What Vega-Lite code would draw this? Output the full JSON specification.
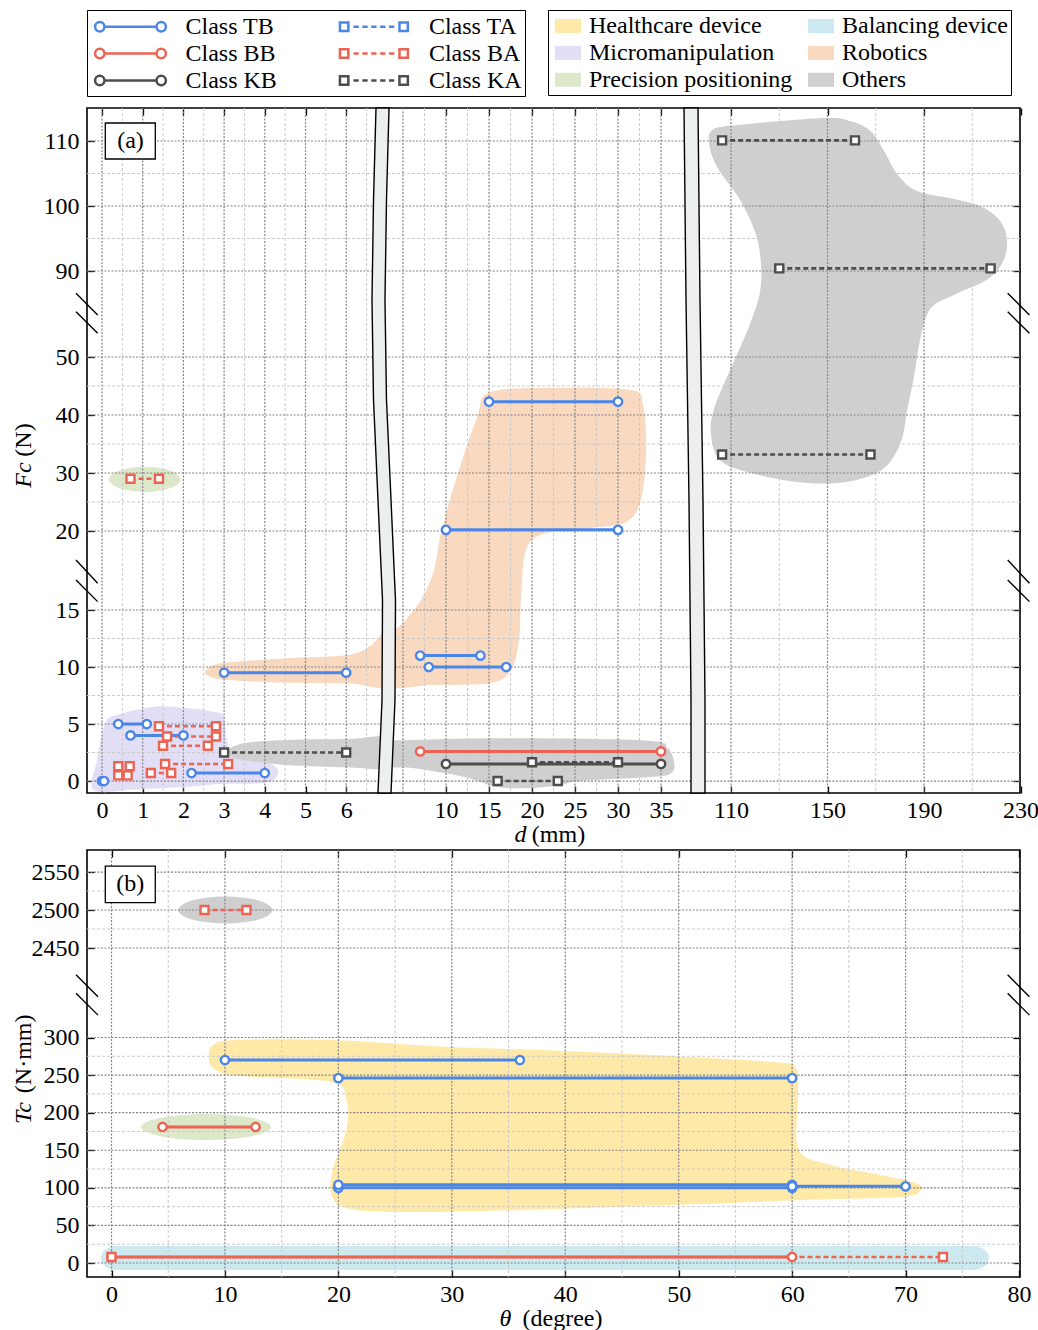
{
"$schema":"https://vega.github.io/schema/vega-lite/v6.json",
"background":"white",
"padding":{"left":10,"top":8,"right":0,"bottom":0},
"bounds":"flush",
"spacing":57,
"config":{
 "font":"Liberation Serif",
 "view":{"stroke":"black","strokeWidth":1.6},
 "axis":{"domain":false,"grid":false,"labelFont":"Liberation Serif","labelFontSize":24,"labelColor":"black","titleFont":"Liberation Serif","titleFontSize":24,"titleFontWeight":"normal","titleColor":"black","tickColor":"black","tickWidth":1.3,"tickSize":-7,"labelFlush":false,"labelOverlap":false},
 "axisX":{"labelPadding":12},
 "axisY":{"labelPadding":15},
 "legend":{"labelFont":"Liberation Serif","labelFontSize":24,"labelColor":"black"}
},
"resolve":{"scale":{"stroke":"independent","fill":"independent","shape":"independent"},"legend":{"stroke":"independent","fill":"independent","shape":"independent"}},
"datasets":{
 "lA":[
  {"s":1,"cls":"Class TB","x1":0,"x2":0.05,"y":0},
  {"s":1,"cls":"Class TB","x1":0.4,"x2":1.1,"y":5},
  {"s":1,"cls":"Class TB","x1":0.7,"x2":2.0,"y":4},
  {"s":1,"cls":"Class TB","x1":2.2,"x2":4.0,"y":0.7},
  {"s":1,"cls":"Class TB","x1":3,"x2":6,"y":9.5},
  {"s":1,"cls":"Class BA","x1":1.4,"x2":2.8,"y":4.8},
  {"s":1,"cls":"Class BA","x1":1.6,"x2":2.8,"y":3.9},
  {"s":1,"cls":"Class BA","x1":1.5,"x2":2.6,"y":3.1},
  {"s":1,"cls":"Class BA","x1":1.55,"x2":3.1,"y":1.5},
  {"s":1,"cls":"Class BA","x1":1.2,"x2":1.7,"y":0.7},
  {"s":1,"cls":"Class BA","x1":0.4,"x2":0.68,"y":1.3},
  {"s":1,"cls":"Class BA","x1":0.4,"x2":0.63,"y":0.5},
  {"s":1,"cls":"Class BA","x1":0.7,"x2":1.4,"y":29},
  {"s":1,"cls":"Class KA","x1":3,"x2":6,"y":2.5},
  {"s":2,"cls":"Class TB","x1":7,"x2":14,"y":11},
  {"s":2,"cls":"Class TB","x1":8,"x2":17,"y":10},
  {"s":2,"cls":"Class TB","x1":10,"x2":30,"y":20.2},
  {"s":2,"cls":"Class TB","x1":15,"x2":30,"y":42.3},
  {"s":2,"cls":"Class BB","x1":7,"x2":35,"y":2.6},
  {"s":2,"cls":"Class KB","x1":10,"x2":35,"y":1.5},
  {"s":2,"cls":"Class KA","x1":20,"x2":30,"y":1.65},
  {"s":2,"cls":"Class KA","x1":16,"x2":23,"y":0},
  {"s":3,"cls":"Class KA","x1":106.3,"x2":161.4,"y":110.1},
  {"s":3,"cls":"Class KA","x1":130,"x2":217.6,"y":90.4},
  {"s":3,"cls":"Class KA","x1":106.3,"x2":167.8,"y":33.2}
 ],
 "lB":[
  {"cls":"Class BA","x1":8.2,"x2":11.9,"y":2500},
  {"cls":"Class TB","x1":10,"x2":36,"y":270},
  {"cls":"Class TB","x1":20,"x2":60,"y":246},
  {"cls":"Class BB","x1":4.5,"x2":12.7,"y":181},
  {"cls":"Class TB","x1":20,"x2":60,"y":100},
  {"cls":"Class TB","x1":20,"x2":60,"y":104},
  {"cls":"Class TB","x1":60,"x2":70,"y":102},
  {"cls":"Class BA","x1":0,"x2":73.3,"y":8},
  {"cls":"Class BB","x1":0,"x2":60,"y":8}
 ],
 "bA":[
  {"s":1,"b":"m1","region":"Micromanipulation","i":0,"x":-0.2,"y":-0.79},
  {"s":1,"b":"m1","region":"Micromanipulation","i":1,"x":-0.12,"y":1.84},
  {"s":1,"b":"m1","region":"Micromanipulation","i":2,"x":0.08,"y":5.06},
  {"s":1,"b":"m1","region":"Micromanipulation","i":3,"x":0.37,"y":5.79},
  {"s":1,"b":"m1","region":"Micromanipulation","i":4,"x":1.27,"y":6.52},
  {"s":1,"b":"m1","region":"Micromanipulation","i":5,"x":2.09,"y":6.38},
  {"s":1,"b":"m1","region":"Micromanipulation","i":6,"x":2.74,"y":6.08},
  {"s":1,"b":"m1","region":"Micromanipulation","i":7,"x":2.99,"y":5.64},
  {"s":1,"b":"m1","region":"Micromanipulation","i":8,"x":3.07,"y":3.6},
  {"s":1,"b":"m1","region":"Micromanipulation","i":9,"x":3.24,"y":2.13},
  {"s":1,"b":"m1","region":"Micromanipulation","i":10,"x":3.89,"y":1.84},
  {"s":1,"b":"m1","region":"Micromanipulation","i":11,"x":4.3,"y":1.11},
  {"s":1,"b":"m1","region":"Micromanipulation","i":12,"x":4.26,"y":0.24},
  {"s":1,"b":"m1","region":"Micromanipulation","i":13,"x":3.89,"y":-0.2},
  {"s":1,"b":"m1","region":"Micromanipulation","i":14,"x":2.91,"y":-0.26},
  {"s":1,"b":"m1","region":"Micromanipulation","i":15,"x":2.09,"y":-0.5},
  {"s":1,"b":"m1","region":"Micromanipulation","i":16,"x":0.86,"y":-0.73},
  {"s":1,"b":"p1","region":"Precision positioning","i":0,"x":1.93,"y":28.9},
  {"s":1,"b":"p1","region":"Precision positioning","i":1,"x":1.67,"y":30.43},
  {"s":1,"b":"p1","region":"Precision positioning","i":2,"x":1.05,"y":31.06},
  {"s":1,"b":"p1","region":"Precision positioning","i":3,"x":0.43,"y":30.43},
  {"s":1,"b":"p1","region":"Precision positioning","i":4,"x":0.17,"y":28.9},
  {"s":1,"b":"p1","region":"Precision positioning","i":5,"x":0.43,"y":27.37},
  {"s":1,"b":"p1","region":"Precision positioning","i":6,"x":1.05,"y":26.74},
  {"s":1,"b":"p1","region":"Precision positioning","i":7,"x":1.67,"y":27.37},
  {"s":1,"b":"o1","region":"Others","i":0,"x":3.02,"y":2.54},
  {"s":1,"b":"o1","region":"Others","i":1,"x":3.48,"y":3.31},
  {"s":1,"b":"o1","region":"Others","i":2,"x":4.55,"y":3.6},
  {"s":1,"b":"o1","region":"Others","i":3,"x":6.02,"y":3.68},
  {"s":1,"b":"o1","region":"Others","i":4,"x":7.05,"y":3.77},
  {"s":1,"b":"o1","region":"Others","i":5,"x":7.05,"y":1.23},
  {"s":1,"b":"o1","region":"Others","i":6,"x":6.02,"y":1.2},
  {"s":1,"b":"o1","region":"Others","i":7,"x":4.55,"y":1.4},
  {"s":1,"b":"o1","region":"Others","i":8,"x":3.48,"y":1.84},
  {"s":1,"b":"o1","region":"Others","i":9,"x":3.12,"y":2.19},
  {"s":1,"b":"r1","region":"Robotics","i":0,"x":2.54,"y":9.59},
  {"s":1,"b":"r1","region":"Robotics","i":1,"x":2.91,"y":10.32},
  {"s":1,"b":"r1","region":"Robotics","i":2,"x":4.55,"y":10.76},
  {"s":1,"b":"r1","region":"Robotics","i":3,"x":6.02,"y":11.05},
  {"s":1,"b":"r1","region":"Robotics","i":4,"x":6.59,"y":11.84},
  {"s":1,"b":"r1","region":"Robotics","i":5,"x":7.1,"y":13.33},
  {"s":1,"b":"r1","region":"Robotics","i":6,"x":7.1,"y":8.51},
  {"s":1,"b":"r1","region":"Robotics","i":7,"x":6.02,"y":8.57},
  {"s":1,"b":"r1","region":"Robotics","i":8,"x":4.55,"y":8.62},
  {"s":1,"b":"r1","region":"Robotics","i":9,"x":3.07,"y":8.86},
  {"s":1,"b":"r1","region":"Robotics","i":10,"x":2.66,"y":9.15},
  {"s":2,"b":"o2","region":"Others","i":0,"x":2.67,"y":3.33},
  {"s":2,"b":"o2","region":"Others","i":1,"x":6.31,"y":3.6},
  {"s":2,"b":"o2","region":"Others","i":2,"x":17.94,"y":3.75},
  {"s":2,"b":"o2","region":"Others","i":3,"x":33.45,"y":3.54},
  {"s":2,"b":"o2","region":"Others","i":4,"x":35.78,"y":2.87},
  {"s":2,"b":"o2","region":"Others","i":5,"x":36.55,"y":1.55},
  {"s":2,"b":"o2","region":"Others","i":6,"x":36.16,"y":0.68},
  {"s":2,"b":"o2","region":"Others","i":7,"x":34.22,"y":0.38},
  {"s":2,"b":"o2","region":"Others","i":8,"x":25.7,"y":0.03},
  {"s":2,"b":"o2","region":"Others","i":9,"x":23.37,"y":-0.35},
  {"s":2,"b":"o2","region":"Others","i":10,"x":19.88,"y":-0.61},
  {"s":2,"b":"o2","region":"Others","i":11,"x":16.01,"y":-0.53},
  {"s":2,"b":"o2","region":"Others","i":12,"x":12.13,"y":0.35},
  {"s":2,"b":"o2","region":"Others","i":13,"x":6.31,"y":1.11},
  {"s":2,"b":"o2","region":"Others","i":14,"x":2.67,"y":1.4},
  {"s":2,"b":"r2","region":"Robotics","i":0,"x":2.67,"y":8.42},
  {"s":2,"b":"r2","region":"Robotics","i":1,"x":2.67,"y":12.37},
  {"s":2,"b":"r2","region":"Robotics","i":2,"x":4.77,"y":13.68},
  {"s":2,"b":"r2","region":"Robotics","i":3,"x":7.09,"y":15.63},
  {"s":2,"b":"r2","region":"Robotics","i":4,"x":8.6,"y":17.53},
  {"s":2,"b":"r2","region":"Robotics","i":5,"x":9.5,"y":20.2},
  {"s":2,"b":"r2","region":"Robotics","i":6,"x":11.5,"y":30.5},
  {"s":2,"b":"r2","region":"Robotics","i":7,"x":13.6,"y":39.5},
  {"s":2,"b":"r2","region":"Robotics","i":8,"x":15.2,"y":43.97},
  {"s":2,"b":"r2","region":"Robotics","i":9,"x":23.37,"y":44.66},
  {"s":2,"b":"r2","region":"Robotics","i":10,"x":31.51,"y":44.31},
  {"s":2,"b":"r2","region":"Robotics","i":11,"x":32.91,"y":41.72},
  {"s":2,"b":"r2","region":"Robotics","i":12,"x":33.26,"y":33.97},
  {"s":2,"b":"r2","region":"Robotics","i":13,"x":32.67,"y":25.34},
  {"s":2,"b":"r2","region":"Robotics","i":14,"x":30.93,"y":21.55},
  {"s":2,"b":"r2","region":"Robotics","i":15,"x":26.86,"y":20.52},
  {"s":2,"b":"r2","region":"Robotics","i":16,"x":21.63,"y":19.87},
  {"s":2,"b":"r2","region":"Robotics","i":17,"x":19.3,"y":18.8},
  {"s":2,"b":"r2","region":"Robotics","i":18,"x":18.72,"y":15.63},
  {"s":2,"b":"r2","region":"Robotics","i":19,"x":18.49,"y":12.37},
  {"s":2,"b":"r2","region":"Robotics","i":20,"x":17.56,"y":9.74},
  {"s":2,"b":"r2","region":"Robotics","i":21,"x":15.23,"y":8.6},
  {"s":2,"b":"r2","region":"Robotics","i":22,"x":8.26,"y":8.42},
  {"s":3,"b":"o3","region":"Others","i":0,"x":102.4,"y":111.74},
  {"s":3,"b":"o3","region":"Others","i":1,"x":114.1,"y":112.51},
  {"s":3,"b":"o3","region":"Others","i":2,"x":148.7,"y":113.54},
  {"s":3,"b":"o3","region":"Others","i":3,"x":159.7,"y":113.03},
  {"s":3,"b":"o3","region":"Others","i":4,"x":168.0,"y":111.49},
  {"s":3,"b":"o3","region":"Others","i":5,"x":173.5,"y":108.42},
  {"s":3,"b":"o3","region":"Others","i":6,"x":179.1,"y":104.82},
  {"s":3,"b":"o3","region":"Others","i":7,"x":187.4,"y":102.26},
  {"s":3,"b":"o3","region":"Others","i":8,"x":204.0,"y":100.97},
  {"s":3,"b":"o3","region":"Others","i":9,"x":215.0,"y":99.69},
  {"s":3,"b":"o3","region":"Others","i":10,"x":222.6,"y":97.12},
  {"s":3,"b":"o3","region":"Others","i":11,"x":224.4,"y":93.54},
  {"s":3,"b":"o3","region":"Others","i":12,"x":221.2,"y":90.46},
  {"s":3,"b":"o3","region":"Others","i":13,"x":215.0,"y":85.2},
  {"s":3,"b":"o3","region":"Others","i":14,"x":202.6,"y":78.98},
  {"s":3,"b":"o3","region":"Others","i":15,"x":192.9,"y":72.79},
  {"s":3,"b":"o3","region":"Others","i":16,"x":188.8,"y":60.37},
  {"s":3,"b":"o3","region":"Others","i":17,"x":186.0,"y":46.95},
  {"s":3,"b":"o3","region":"Others","i":18,"x":183.2,"y":41.21},
  {"s":3,"b":"o3","region":"Others","i":19,"x":180.5,"y":35.47},
  {"s":3,"b":"o3","region":"Others","i":20,"x":173.5,"y":30.86},
  {"s":3,"b":"o3","region":"Others","i":21,"x":159.7,"y":28.57},
  {"s":3,"b":"o3","region":"Others","i":22,"x":141.8,"y":28.28},
  {"s":3,"b":"o3","region":"Others","i":23,"x":121.1,"y":29.71},
  {"s":3,"b":"o3","region":"Others","i":24,"x":105.9,"y":32.02},
  {"s":3,"b":"o3","region":"Others","i":25,"x":101.7,"y":36.6},
  {"s":3,"b":"o3","region":"Others","i":26,"x":103.1,"y":41.21},
  {"s":3,"b":"o3","region":"Others","i":27,"x":110.0,"y":48.1},
  {"s":3,"b":"o3","region":"Others","i":28,"x":118.3,"y":66.6},
  {"s":3,"b":"o3","region":"Others","i":29,"x":122.4,"y":83.63},
  {"s":3,"b":"o3","region":"Others","i":30,"x":121.1,"y":94.57},
  {"s":3,"b":"o3","region":"Others","i":31,"x":114.1,"y":100.72},
  {"s":3,"b":"o3","region":"Others","i":32,"x":104.5,"y":105.85},
  {"s":3,"b":"o3","region":"Others","i":33,"x":101.0,"y":109.43}
 ],
 "bB":[
  {"b":"g","region":"Others","i":0,"x":14.19,"y":2500},
  {"b":"g","region":"Others","i":1,"x":12.97,"y":2512.6},
  {"b":"g","region":"Others","i":2,"x":10.03,"y":2517.8},
  {"b":"g","region":"Others","i":3,"x":7.09,"y":2512.6},
  {"b":"g","region":"Others","i":4,"x":5.87,"y":2500},
  {"b":"g","region":"Others","i":5,"x":7.09,"y":2487.4},
  {"b":"g","region":"Others","i":6,"x":10.03,"y":2482.2},
  {"b":"g","region":"Others","i":7,"x":12.97,"y":2487.4},
  {"b":"p","region":"Precision positioning","i":0,"x":14.06,"y":181},
  {"b":"p","region":"Precision positioning","i":1,"x":12.38,"y":193.2},
  {"b":"p","region":"Precision positioning","i":2,"x":8.33,"y":198.3},
  {"b":"p","region":"Precision positioning","i":3,"x":4.28,"y":193.2},
  {"b":"p","region":"Precision positioning","i":4,"x":2.6,"y":181},
  {"b":"p","region":"Precision positioning","i":5,"x":4.28,"y":168.8},
  {"b":"p","region":"Precision positioning","i":6,"x":8.33,"y":163.7},
  {"b":"p","region":"Precision positioning","i":7,"x":12.38,"y":168.8},
  {"b":"h","region":"Healthcare device","i":0,"x":8.59,"y":272.7},
  {"b":"h","region":"Healthcare device","i":1,"x":8.95,"y":290.0},
  {"b":"h","region":"Healthcare device","i":2,"x":10.97,"y":296.7},
  {"b":"h","region":"Healthcare device","i":3,"x":19.35,"y":296.7},
  {"b":"h","region":"Healthcare device","i":4,"x":29.93,"y":287.3},
  {"b":"h","region":"Healthcare device","i":5,"x":37.86,"y":283.4},
  {"b":"h","region":"Healthcare device","i":6,"x":47.56,"y":276.7},
  {"b":"h","region":"Healthcare device","i":7,"x":58.14,"y":267.4},
  {"b":"h","region":"Healthcare device","i":8,"x":60.34,"y":259.4},
  {"b":"h","region":"Healthcare device","i":9,"x":60.5,"y":216.8},
  {"b":"h","region":"Healthcare device","i":10,"x":60.6,"y":150.3},
  {"b":"h","region":"Healthcare device","i":11,"x":63.4,"y":130.4},
  {"b":"h","region":"Healthcare device","i":12,"x":67.8,"y":117.1},
  {"b":"h","region":"Healthcare device","i":13,"x":70.9,"y":106.4},
  {"b":"h","region":"Healthcare device","i":14,"x":71.36,"y":97.1},
  {"b":"h","region":"Healthcare device","i":15,"x":69.6,"y":87.8},
  {"b":"h","region":"Healthcare device","i":16,"x":60.8,"y":83.8},
  {"b":"h","region":"Healthcare device","i":17,"x":52.0,"y":78.5},
  {"b":"h","region":"Healthcare device","i":18,"x":36.1,"y":70.5},
  {"b":"h","region":"Healthcare device","i":19,"x":25.5,"y":67.8},
  {"b":"h","region":"Healthcare device","i":20,"x":20.7,"y":73.2},
  {"b":"h","region":"Healthcare device","i":21,"x":19.4,"y":90.5},
  {"b":"h","region":"Healthcare device","i":22,"x":19.5,"y":123.7},
  {"b":"h","region":"Healthcare device","i":23,"x":20.7,"y":176.9},
  {"b":"h","region":"Healthcare device","i":24,"x":20.7,"y":216.8},
  {"b":"h","region":"Healthcare device","i":25,"x":19.4,"y":240.8},
  {"b":"h","region":"Healthcare device","i":26,"x":11.4,"y":248.8},
  {"b":"h","region":"Healthcare device","i":27,"x":9.2,"y":256.8},
  {"b":"c","region":"Balancing device","i":0,"x":-0.93,"y":6.65},
  {"b":"c","region":"Balancing device","i":1,"x":-0.62,"y":17.0},
  {"b":"c","region":"Balancing device","i":2,"x":0.2,"y":21.6},
  {"b":"c","region":"Balancing device","i":3,"x":1.6,"y":22.6},
  {"b":"c","region":"Balancing device","i":4,"x":38.2,"y":22.6},
  {"b":"c","region":"Balancing device","i":5,"x":74.82,"y":22.6},
  {"b":"c","region":"Balancing device","i":6,"x":76.22,"y":21.6},
  {"b":"c","region":"Balancing device","i":7,"x":77.04,"y":17.0},
  {"b":"c","region":"Balancing device","i":8,"x":77.35,"y":6.65},
  {"b":"c","region":"Balancing device","i":9,"x":77.04,"y":-3.7},
  {"b":"c","region":"Balancing device","i":10,"x":76.22,"y":-8.3},
  {"b":"c","region":"Balancing device","i":11,"x":74.82,"y":-9.3},
  {"b":"c","region":"Balancing device","i":12,"x":38.2,"y":-9.3},
  {"b":"c","region":"Balancing device","i":13,"x":1.6,"y":-9.3},
  {"b":"c","region":"Balancing device","i":14,"x":0.2,"y":-8.3},
  {"b":"c","region":"Balancing device","i":15,"x":-0.62,"y":-3.7}
 ],
 "kA1":[
  {"b":"k1","i":0,"x":6.732,"y":115.08},
  {"b":"k1","i":1,"x":6.671,"y":100.92},
  {"b":"k1","i":2,"x":6.634,"y":76.5},
  {"b":"k1","i":3,"x":6.671,"y":42.59},
  {"b":"k1","i":4,"x":6.781,"y":25.34},
  {"b":"k1","i":5,"x":6.892,"y":15.63},
  {"b":"k1","i":6,"x":6.88,"y":7.11},
  {"b":"k1","i":7,"x":6.781,"y":-1.05},
  {"b":"k1","i":8,"x":7.101,"y":-1.05},
  {"b":"k1","i":9,"x":7.199,"y":7.11},
  {"b":"k1","i":10,"x":7.211,"y":15.63},
  {"b":"k1","i":11,"x":7.101,"y":25.34},
  {"b":"k1","i":12,"x":6.99,"y":42.59},
  {"b":"k1","i":13,"x":6.953,"y":76.5},
  {"b":"k1","i":14,"x":6.99,"y":100.92},
  {"b":"k1","i":15,"x":7.052,"y":115.08}
 ],
 "kA2":[
  {"b":"k2","i":0,"x":90.52,"y":115.08},
  {"b":"k2","i":1,"x":91.35,"y":76.5},
  {"b":"k2","i":2,"x":92.59,"y":25.34},
  {"b":"k2","i":3,"x":93.42,"y":7.11},
  {"b":"k2","i":4,"x":93.42,"y":-1.05},
  {"b":"k2","i":5,"x":99.22,"y":-1.05},
  {"b":"k2","i":6,"x":99.22,"y":7.11},
  {"b":"k2","i":7,"x":98.39,"y":25.34},
  {"b":"k2","i":8,"x":97.15,"y":76.5},
  {"b":"k2","i":9,"x":96.32,"y":115.08}
 ],
 "slA":[
  {"side":"L","x1":-0.639,"x2":-0.106,"ya":79.63,"yb":69.53},
  {"side":"L","x1":-0.639,"x2":-0.106,"ya":71.07,"yb":61.02},
  {"side":"L","x1":-0.639,"x2":-0.106,"ya":18.16,"yb":16.69},
  {"side":"L","x1":-0.639,"x2":-0.106,"ya":16.9,"yb":15.53},
  {"side":"R","x1":224.7,"x2":233.7,"ya":79.63,"yb":69.53},
  {"side":"R","x1":224.7,"x2":233.7,"ya":71.07,"yb":61.02},
  {"side":"R","x1":224.7,"x2":233.7,"ya":18.16,"yb":16.69},
  {"side":"R","x1":224.7,"x2":233.7,"ya":16.9,"yb":15.53}
 ],
 "slB":[
  {"x1":-3.13,"x2":-1.19,"ya":1805.0,"yb":1279.5},
  {"x1":-3.13,"x2":-1.19,"ya":1363.1,"yb":837.5},
  {"x1":79.0,"x2":80.92,"ya":1805.0,"yb":1279.5},
  {"x1":79.0,"x2":80.92,"ya":1363.1,"yb":837.5}
 ],
 "vA1":[{"v":0,"k":"M"},{"v":1,"k":"M"},{"v":2,"k":"M"},{"v":3,"k":"M"},{"v":4,"k":"M"},{"v":5,"k":"M"},{"v":6,"k":"M"},
  {"v":0.5,"k":"m"},{"v":1.5,"k":"m"},{"v":2.5,"k":"m"},{"v":3.5,"k":"m"},{"v":4.5,"k":"m"},{"v":5.5,"k":"m"},{"v":6.5,"k":"m"}],
 "vA2":[{"v":5,"k":"M"},{"v":10,"k":"M"},{"v":15,"k":"M"},{"v":20,"k":"M"},{"v":25,"k":"M"},{"v":30,"k":"M"},{"v":35,"k":"M"},
  {"v":7.5,"k":"m"},{"v":12.5,"k":"m"},{"v":17.5,"k":"m"},{"v":22.5,"k":"m"},{"v":27.5,"k":"m"},{"v":32.5,"k":"m"}],
 "vA3":[{"v":110,"k":"M"},{"v":150,"k":"M"},{"v":190,"k":"M"},{"v":130,"k":"m"},{"v":170,"k":"m"},{"v":210,"k":"m"}],
 "hA":[{"v":0,"k":"M"},{"v":5,"k":"M"},{"v":10,"k":"M"},{"v":15,"k":"M"},{"v":20,"k":"M"},{"v":30,"k":"M"},{"v":40,"k":"M"},{"v":50,"k":"M"},{"v":90,"k":"M"},{"v":100,"k":"M"},{"v":110,"k":"M"},
  {"v":2.5,"k":"m"},{"v":7.5,"k":"m"},{"v":12.5,"k":"m"},{"v":25,"k":"m"},{"v":35,"k":"m"},{"v":45,"k":"m"},{"v":95,"k":"m"},{"v":105,"k":"m"}],
 "vB":[{"v":0,"k":"M"},{"v":10,"k":"M"},{"v":20,"k":"M"},{"v":30,"k":"M"},{"v":40,"k":"M"},{"v":50,"k":"M"},{"v":60,"k":"M"},{"v":70,"k":"M"},
  {"v":5,"k":"m"},{"v":15,"k":"m"},{"v":25,"k":"m"},{"v":35,"k":"m"},{"v":45,"k":"m"},{"v":55,"k":"m"},{"v":65,"k":"m"},{"v":75,"k":"m"}],
 "hB":[{"v":0,"k":"M"},{"v":50,"k":"M"},{"v":100,"k":"M"},{"v":150,"k":"M"},{"v":200,"k":"M"},{"v":250,"k":"M"},{"v":300,"k":"M"},{"v":2450,"k":"M"},{"v":2500,"k":"M"},{"v":2550,"k":"M"},
  {"v":25,"k":"m"},{"v":75,"k":"m"},{"v":125,"k":"m"},{"v":175,"k":"m"},{"v":225,"k":"m"},{"v":275,"k":"m"},{"v":2475,"k":"m"},{"v":2525,"k":"m"}]
},
"vconcat":[
{
 "width":933,"height":685,
 "resolve":{"scale":{"x":"independent"},"axis":{"x":"independent","y":"independent"}},
 "layer":[
  {"data":{"name":"lA"},
   "mark":{"type":"point","opacity":0,"filled":false},
   "encoding":{
    "stroke":{"field":"cls","type":"nominal","scale":{"domain":["Class TB","Class BB","Class KB","Class TA","Class BA","Class KA"],"range":["#4A86E8","#EC6352","#4D4D4D","#4A86E8","#EC6352","#4D4D4D"]},
      "legend":{"orient":"none","legendX":0,"legendY":-98,"columns":2,"title":null,"strokeColor":"black","fillColor":"white","padding":3,"symbolSize":576,"symbolStrokeWidth":2.5,"symbolFillColor":"white","symbolOpacity":1,"symbolOffset":27,"labelOffset":41.5,"columnPadding":56.4,"rowPadding":1,"labelLimit":400,"labelFontSize":24,"labelFont":"Liberation Serif","labelExpr":"indexof(['Class TA','Class BA','Class KA'], datum.label) >= 0 ? datum.label + '\u00a0\u00a0' : datum.label"}},
    "shape":{"field":"cls","type":"nominal","scale":{"domain":["Class TB","Class BB","Class KB","Class TA","Class BA","Class KA"],"range":[
      "M-2.95,0A0.39,0.39 0 1,1 -2.17,0A0.39,0.39 0 1,1 -2.95,0ZM-2.17,0H2.17M2.17,0A0.39,0.39 0 1,1 2.95,0A0.39,0.39 0 1,1 2.17,0Z",
      "M-2.95,0A0.39,0.39 0 1,1 -2.17,0A0.39,0.39 0 1,1 -2.95,0ZM-2.17,0H2.17M2.17,0A0.39,0.39 0 1,1 2.95,0A0.39,0.39 0 1,1 2.17,0Z",
      "M-2.95,0A0.39,0.39 0 1,1 -2.17,0A0.39,0.39 0 1,1 -2.95,0ZM-2.17,0H2.17M2.17,0A0.39,0.39 0 1,1 2.95,0A0.39,0.39 0 1,1 2.17,0Z",
      "M-2.83,-0.35H-2.13V0.35H-2.83ZM-1.7,0H-1.26M-0.96,0H-0.52M-0.22,0H0.22M0.52,0H0.96M1.26,0H1.7M2.13,-0.35H2.83V0.35H2.13Z",
      "M-2.83,-0.35H-2.13V0.35H-2.83ZM-1.7,0H-1.26M-0.96,0H-0.52M-0.22,0H0.22M0.52,0H0.96M1.26,0H1.7M2.13,-0.35H2.83V0.35H2.13Z",
      "M-2.83,-0.35H-2.13V0.35H-2.83ZM-1.7,0H-1.26M-0.96,0H-0.52M-0.22,0H0.22M0.52,0H0.96M1.26,0H1.7M2.13,-0.35H2.83V0.35H2.13Z"]},
      "legend":{"orient":"none","legendX":0,"legendY":-98,"columns":2,"title":null,"strokeColor":"black","fillColor":"white","padding":3,"symbolSize":576,"symbolStrokeWidth":2.5,"symbolFillColor":"white","symbolOpacity":1,"symbolOffset":27,"labelOffset":41.5,"columnPadding":56.4,"rowPadding":1,"labelLimit":400,"labelFontSize":24,"labelFont":"Liberation Serif","labelExpr":"indexof(['Class TA','Class BA','Class KA'], datum.label) >= 0 ? datum.label + '\u00a0\u00a0' : datum.label"}}}},
  {"data":{"name":"bA"},
   "mark":{"type":"point","opacity":0,"filled":true,"shape":"M-1,-0.54H1V0.54H-1Z"},
   "encoding":{
    "fill":{"field":"region","type":"nominal","scale":{"domain":["Healthcare device","Micromanipulation","Precision positioning","Balancing device","Robotics","Others"],"range":["#FFE9A8","#E2DEF6","#DDE8CB","#CBE9EF","#F9D9BF","#CFCFCF"]},
      "legend":{"orient":"none","legendX":461,"legendY":-98,"columns":2,"title":null,"strokeColor":"black","fillColor":"white","padding":3,"symbolSize":676,"symbolType":"M-1,-0.54H1V0.54H-1Z","symbolStrokeWidth":0,"symbolOpacity":1,"symbolOffset":4,"labelOffset":8,"columnPadding":11,"rowPadding":1.9,"labelLimit":400,"labelFontSize":24,"labelFont":"Liberation Serif"}}}},
  {"layer":[
   {"data":{"name":"bA"},"transform":[{"filter":"datum.s==1"}],
    "mark":{"type":"line","interpolate":"cardinal-closed","strokeWidth":0,"strokeOpacity":0},
    "encoding":{"x":{"field":"x","type":"quantitative","scale":{"domain":[0,6],"range":[15,259.2],"nice":false,"zero":false},"axis":null},
     "y":{"field":"y","type":"quantitative","scale":{"domain":[-1.05,15,20,50,90,115.08],"range":[685,502,423,249,163,0],"nice":false,"zero":false},"axis":null},
     "detail":{"field":"b"},"order":{"field":"i","type":"quantitative"},
     "fill":{"field":"region","type":"nominal","scale":{"domain":["Healthcare device","Micromanipulation","Precision positioning","Balancing device","Robotics","Others"],"range":["#FFE9A8","#E2DEF6","#DDE8CB","#CBE9EF","#F9D9BF","#CFCFCF"]}}}},
   {"data":{"name":"vA1"},"transform":[{"filter":"datum.k=='m'"}],"mark":{"type":"rule","stroke":"#cacaca","strokeWidth":1,"strokeDash":[3,2]},
    "encoding":{"x":{"field":"v","type":"quantitative","scale":{"domain":[0,6],"range":[15,259.2],"nice":false,"zero":false},"axis":null}}},
   {"data":{"name":"vA1"},"transform":[{"filter":"datum.k=='M'"}],"mark":{"type":"rule","stroke":"#858585","strokeWidth":1.2,"strokeDash":[2,1.5]},
    "encoding":{"x":{"field":"v","type":"quantitative","scale":{"domain":[0,6],"range":[15,259.2],"nice":false,"zero":false},"axis":null}}}
  ]},
  {"layer":[
   {"data":{"name":"bA"},"transform":[{"filter":"datum.s==2"}],
    "mark":{"type":"line","interpolate":"cardinal-closed","strokeWidth":0,"strokeOpacity":0},
    "encoding":{"x":{"field":"x","type":"quantitative","scale":{"domain":[10,35],"range":[359,574],"nice":false,"zero":false},"axis":null},
     "y":{"field":"y","type":"quantitative","scale":{"domain":[-1.05,15,20,50,90,115.08],"range":[685,502,423,249,163,0],"nice":false,"zero":false},"axis":null},
     "detail":{"field":"b"},"order":{"field":"i","type":"quantitative"},
     "fill":{"field":"region","type":"nominal","scale":{"domain":["Healthcare device","Micromanipulation","Precision positioning","Balancing device","Robotics","Others"],"range":["#FFE9A8","#E2DEF6","#DDE8CB","#CBE9EF","#F9D9BF","#CFCFCF"]}}}},
   {"data":{"name":"vA2"},"transform":[{"filter":"datum.k=='m'"}],"mark":{"type":"rule","stroke":"#cacaca","strokeWidth":1,"strokeDash":[3,2]},
    "encoding":{"x":{"field":"v","type":"quantitative","scale":{"domain":[10,35],"range":[359,574],"nice":false,"zero":false},"axis":null}}},
   {"data":{"name":"vA2"},"transform":[{"filter":"datum.k=='M'"}],"mark":{"type":"rule","stroke":"#858585","strokeWidth":1.2,"strokeDash":[2,1.5]},
    "encoding":{"x":{"field":"v","type":"quantitative","scale":{"domain":[10,35],"range":[359,574],"nice":false,"zero":false},"axis":null}}}
  ]},
  {"layer":[
   {"data":{"name":"bA"},"transform":[{"filter":"datum.s==3"}],
    "mark":{"type":"line","interpolate":"cardinal-closed","strokeWidth":0,"strokeOpacity":0},
    "encoding":{"x":{"field":"x","type":"quantitative","scale":{"domain":[110,230],"range":[644,933.5],"nice":false,"zero":false},"axis":null},
     "y":{"field":"y","type":"quantitative","scale":{"domain":[-1.05,15,20,50,90,115.08],"range":[685,502,423,249,163,0],"nice":false,"zero":false},"axis":null},
     "detail":{"field":"b"},"order":{"field":"i","type":"quantitative"},
     "fill":{"field":"region","type":"nominal","scale":{"domain":["Healthcare device","Micromanipulation","Precision positioning","Balancing device","Robotics","Others"],"range":["#FFE9A8","#E2DEF6","#DDE8CB","#CBE9EF","#F9D9BF","#CFCFCF"]}}}},
   {"data":{"name":"vA3"},"transform":[{"filter":"datum.k=='m'"}],"mark":{"type":"rule","stroke":"#cacaca","strokeWidth":1,"strokeDash":[3,2]},
    "encoding":{"x":{"field":"v","type":"quantitative","scale":{"domain":[110,230],"range":[644,933.5],"nice":false,"zero":false},"axis":null}}},
   {"data":{"name":"vA3"},"transform":[{"filter":"datum.k=='M'"}],"mark":{"type":"rule","stroke":"#858585","strokeWidth":1.2,"strokeDash":[2,1.5]},
    "encoding":{"x":{"field":"v","type":"quantitative","scale":{"domain":[110,230],"range":[644,933.5],"nice":false,"zero":false},"axis":null}}}
  ]},
  {"layer":[
   {"data":{"name":"hA"},"transform":[{"filter":"datum.k=='m'"}],"mark":{"type":"rule","stroke":"#cacaca","strokeWidth":1,"strokeDash":[3,2]},
    "encoding":{"y":{"field":"v","type":"quantitative","scale":{"domain":[-1.05,15,20,50,90,115.08],"range":[685,502,423,249,163,0],"nice":false,"zero":false},"axis":null}}},
   {"data":{"name":"hA"},"transform":[{"filter":"datum.k=='M'"}],"mark":{"type":"rule","stroke":"#858585","strokeWidth":1.2,"strokeDash":[2,1.5]},
    "encoding":{"y":{"field":"v","type":"quantitative","scale":{"domain":[-1.05,15,20,50,90,115.08],"range":[685,502,423,249,163,0],"nice":false,"zero":false},"axis":null}}}
  ]},
  {"data":{"name":"kA1"},"mark":{"type":"line","interpolate":"linear-closed","fill":"#EDEFEE","stroke":"black","strokeWidth":1.4},
   "encoding":{"x":{"field":"x","type":"quantitative","scale":{"domain":[0,6],"range":[15,259.2],"nice":false,"zero":false},"axis":null},
    "y":{"field":"y","type":"quantitative","scale":{"domain":[-1.05,15,20,50,90,115.08],"range":[685,502,423,249,163,0],"nice":false,"zero":false},"axis":null},
    "detail":{"field":"b"},"order":{"field":"i","type":"quantitative"}}},
  {"data":{"name":"kA2"},"mark":{"type":"line","interpolate":"linear-closed","fill":"#EDEFEE","stroke":"black","strokeWidth":1.4},
   "encoding":{"x":{"field":"x","type":"quantitative","scale":{"domain":[110,230],"range":[644,933.5],"nice":false,"zero":false},"axis":null},
    "y":{"field":"y","type":"quantitative","scale":{"domain":[-1.05,15,20,50,90,115.08],"range":[685,502,423,249,163,0],"nice":false,"zero":false},"axis":null},
    "detail":{"field":"b"},"order":{"field":"i","type":"quantitative"}}},
  {"resolve":{"axis":{"x":"independent"}},
   "layer":[
   {"data":{"name":"lA"},"transform":[{"filter":"datum.s==1 && substring(datum.cls,7,8)=='B'"}],
    "mark":{"type":"rule","strokeWidth":3},
    "encoding":{
     "x":{"field":"x1","type":"quantitative","scale":{"domain":[0,6],"range":[15,259.2],"nice":false,"zero":false},
       "axis":{"orient":"bottom","values":[0,1,2,3,4,5,6],"title":"d","titleFontStyle":"italic","titleX":433,"titleY":48,"titleAlign":"center","titleBaseline":"alphabetic","titleAngle":0}},
     "x2":{"field":"x2"},
     "y":{"field":"y","type":"quantitative","scale":{"domain":[-1.05,15,20,50,90,115.08],"range":[685,502,423,249,163,0],"nice":false,"zero":false},
       "axis":{"orient":"left","values":[0,5,10,15,20,30,40,50,90,100,110],"title":"Fc","titleFontStyle":"italic","titleX":-64,"titleY":366.5,"titleAngle":-90,"titleAlign":"center","titleBaseline":"middle"}},
     "stroke":{"field":"cls","type":"nominal","scale":{"domain":["Class TB","Class BB","Class KB","Class TA","Class BA","Class KA"],"range":["#4A86E8","#EC6352","#4D4D4D","#4A86E8","#EC6352","#4D4D4D"]}}}},
   {"data":{"name":"lA"},"transform":[{"filter":"datum.s==1 && substring(datum.cls,7,8)=='A'"}],
    "mark":{"type":"rule","strokeWidth":2.6,"strokeDash":[5,3]},
    "encoding":{
     "x":{"field":"x1","type":"quantitative","scale":{"domain":[0,6],"range":[15,259.2],"nice":false,"zero":false},"axis":null},
     "x2":{"field":"x2"},
     "y":{"field":"y","type":"quantitative","scale":{"domain":[-1.05,15,20,50,90,115.08],"range":[685,502,423,249,163,0],"nice":false,"zero":false}},
     "stroke":{"field":"cls","type":"nominal","scale":{"domain":["Class TB","Class BB","Class KB","Class TA","Class BA","Class KA"],"range":["#4A86E8","#EC6352","#4D4D4D","#4A86E8","#EC6352","#4D4D4D"]}}}},
   {"data":{"name":"lA"},"transform":[{"filter":"datum.s==1"},{"fold":["x1","x2"],"as":["end","xv"]},{"filter":"substring(datum.cls,7,8)=='B'"}],
    "mark":{"type":"point","shape":"circle","size":70,"strokeWidth":2.4,"fill":"white","filled":false,"opacity":1},
    "encoding":{"x":{"field":"xv","type":"quantitative","scale":{"domain":[0,6],"range":[15,259.2],"nice":false,"zero":false},
       "axis":{"orient":"top","values":[0,1,2,3,4,5,6],"labels":false,"title":null}},
     "y":{"field":"y","type":"quantitative","scale":{"domain":[-1.05,15,20,50,90,115.08],"range":[685,502,423,249,163,0],"nice":false,"zero":false}},
     "stroke":{"field":"cls","type":"nominal","scale":{"domain":["Class TB","Class BB","Class KB","Class TA","Class BA","Class KA"],"range":["#4A86E8","#EC6352","#4D4D4D","#4A86E8","#EC6352","#4D4D4D"]}}}},
   {"data":{"name":"lA"},"transform":[{"filter":"datum.s==1"},{"fold":["x1","x2"],"as":["end","xv"]},{"filter":"substring(datum.cls,7,8)=='A'"}],
    "mark":{"type":"point","shape":"square","size":64,"strokeWidth":2.4,"fill":"white","filled":false,"opacity":1},
    "encoding":{"x":{"field":"xv","type":"quantitative","scale":{"domain":[0,6],"range":[15,259.2],"nice":false,"zero":false},"axis":null},
     "y":{"field":"y","type":"quantitative","scale":{"domain":[-1.05,15,20,50,90,115.08],"range":[685,502,423,249,163,0],"nice":false,"zero":false}},
     "stroke":{"field":"cls","type":"nominal","scale":{"domain":["Class TB","Class BB","Class KB","Class TA","Class BA","Class KA"],"range":["#4A86E8","#EC6352","#4D4D4D","#4A86E8","#EC6352","#4D4D4D"]}}}},
   {"data":{"values":[{}]},"mark":{"type":"rect","fill":"white","stroke":"black","strokeWidth":1.3},
    "encoding":{"x":{"datum":0.081,"type":"quantitative","scale":{"domain":[0,6],"range":[15,259.2],"nice":false,"zero":false},"axis":null},"x2":{"datum":1.31},
     "y":{"datum":112.77,"type":"quantitative","scale":{"domain":[-1.05,15,20,50,90,115.08],"range":[685,502,423,249,163,0],"nice":false,"zero":false}},"y2":{"datum":107.23}}},
   {"data":{"values":[{}]},"mark":{"type":"text","text":"(a)","font":"Liberation Serif","fontSize":24,"color":"black","align":"center","baseline":"middle"},
    "encoding":{"x":{"datum":0.7,"type":"quantitative","scale":{"domain":[0,6],"range":[15,259.2],"nice":false,"zero":false},"axis":null},
     "y":{"datum":110,"type":"quantitative","scale":{"domain":[-1.05,15,20,50,90,115.08],"range":[685,502,423,249,163,0],"nice":false,"zero":false}}}},
   {"data":{"name":"slA"},"transform":[{"filter":"datum.side=='L'"}],"mark":{"type":"rule","stroke":"black","strokeWidth":1.4},
    "encoding":{"x":{"field":"x1","type":"quantitative","scale":{"domain":[0,6],"range":[15,259.2],"nice":false,"zero":false},"axis":null},"x2":{"field":"x2"},
     "y":{"field":"ya","type":"quantitative","scale":{"domain":[-1.05,15,20,50,90,115.08],"range":[685,502,423,249,163,0],"nice":false,"zero":false}},"y2":{"field":"yb"}}}
  ]},
  {"resolve":{"axis":{"x":"independent"}},
   "layer":[
   {"data":{"name":"lA"},"transform":[{"filter":"datum.s==2 && substring(datum.cls,7,8)=='B'"}],
    "mark":{"type":"rule","strokeWidth":3},
    "encoding":{
     "x":{"field":"x1","type":"quantitative","scale":{"domain":[10,35],"range":[359,574],"nice":false,"zero":false},
       "axis":{"orient":"bottom","values":[5,10,15,20,25,30,35],"labelExpr":"datum.value < 8 ? '' : datum.label","title":"(mm)","titleX":471,"titleY":48,"titleAlign":"center","titleBaseline":"alphabetic","titleAngle":0}},
     "x2":{"field":"x2"},
     "y":{"field":"y","type":"quantitative","scale":{"domain":[-1.05,15,20,50,90,115.08],"range":[685,502,423,249,163,0],"nice":false,"zero":false},
       "axis":{"orient":"left","values":[0],"labels":false,"ticks":false,"title":"(N)","titleX":-64,"titleY":331.5,"titleAngle":-90,"titleAlign":"center","titleBaseline":"middle"}},
     "stroke":{"field":"cls","type":"nominal","scale":{"domain":["Class TB","Class BB","Class KB","Class TA","Class BA","Class KA"],"range":["#4A86E8","#EC6352","#4D4D4D","#4A86E8","#EC6352","#4D4D4D"]}}}},
   {"data":{"name":"lA"},"transform":[{"filter":"datum.s==2 && substring(datum.cls,7,8)=='A'"}],
    "mark":{"type":"rule","strokeWidth":2.6,"strokeDash":[5,3]},
    "encoding":{
     "x":{"field":"x1","type":"quantitative","scale":{"domain":[10,35],"range":[359,574],"nice":false,"zero":false},"axis":null},
     "x2":{"field":"x2"},
     "y":{"field":"y","type":"quantitative","scale":{"domain":[-1.05,15,20,50,90,115.08],"range":[685,502,423,249,163,0],"nice":false,"zero":false}},
     "stroke":{"field":"cls","type":"nominal","scale":{"domain":["Class TB","Class BB","Class KB","Class TA","Class BA","Class KA"],"range":["#4A86E8","#EC6352","#4D4D4D","#4A86E8","#EC6352","#4D4D4D"]}}}},
   {"data":{"name":"lA"},"transform":[{"filter":"datum.s==2"},{"fold":["x1","x2"],"as":["end","xv"]},{"filter":"substring(datum.cls,7,8)=='B'"}],
    "mark":{"type":"point","shape":"circle","size":70,"strokeWidth":2.4,"fill":"white","filled":false,"opacity":1},
    "encoding":{"x":{"field":"xv","type":"quantitative","scale":{"domain":[10,35],"range":[359,574],"nice":false,"zero":false},
       "axis":{"orient":"top","values":[5,10,15,20,25,30,35],"labels":false,"title":null}},
     "y":{"field":"y","type":"quantitative","scale":{"domain":[-1.05,15,20,50,90,115.08],"range":[685,502,423,249,163,0],"nice":false,"zero":false}},
     "stroke":{"field":"cls","type":"nominal","scale":{"domain":["Class TB","Class BB","Class KB","Class TA","Class BA","Class KA"],"range":["#4A86E8","#EC6352","#4D4D4D","#4A86E8","#EC6352","#4D4D4D"]}}}},
   {"data":{"name":"lA"},"transform":[{"filter":"datum.s==2"},{"fold":["x1","x2"],"as":["end","xv"]},{"filter":"substring(datum.cls,7,8)=='A'"}],
    "mark":{"type":"point","shape":"square","size":64,"strokeWidth":2.4,"fill":"white","filled":false,"opacity":1},
    "encoding":{"x":{"field":"xv","type":"quantitative","scale":{"domain":[10,35],"range":[359,574],"nice":false,"zero":false},"axis":null},
     "y":{"field":"y","type":"quantitative","scale":{"domain":[-1.05,15,20,50,90,115.08],"range":[685,502,423,249,163,0],"nice":false,"zero":false}},
     "stroke":{"field":"cls","type":"nominal","scale":{"domain":["Class TB","Class BB","Class KB","Class TA","Class BA","Class KA"],"range":["#4A86E8","#EC6352","#4D4D4D","#4A86E8","#EC6352","#4D4D4D"]}}}}
  ]},
  {"resolve":{"axis":{"x":"independent"}},
   "layer":[
   {"data":{"name":"lA"},"transform":[{"filter":"datum.s==3 && substring(datum.cls,7,8)=='A'"}],
    "mark":{"type":"rule","strokeWidth":2.6,"strokeDash":[5,3]},
    "encoding":{
     "x":{"field":"x1","type":"quantitative","scale":{"domain":[110,230],"range":[644,933.5],"nice":false,"zero":false},
       "axis":{"orient":"bottom","values":[110,150,190,230],"title":null}},
     "x2":{"field":"x2"},
     "y":{"field":"y","type":"quantitative","scale":{"domain":[-1.05,15,20,50,90,115.08],"range":[685,502,423,249,163,0],"nice":false,"zero":false},
       "axis":{"orient":"right","values":[0,5,10,15,20,30,40,50,90,100,110],"labels":false,"title":null}},
     "stroke":{"field":"cls","type":"nominal","scale":{"domain":["Class TB","Class BB","Class KB","Class TA","Class BA","Class KA"],"range":["#4A86E8","#EC6352","#4D4D4D","#4A86E8","#EC6352","#4D4D4D"]}}}},
   {"data":{"name":"lA"},"transform":[{"filter":"datum.s==3"},{"fold":["x1","x2"],"as":["end","xv"]},{"filter":"substring(datum.cls,7,8)=='A'"}],
    "mark":{"type":"point","shape":"square","size":64,"strokeWidth":2.4,"fill":"white","filled":false,"opacity":1},
    "encoding":{"x":{"field":"xv","type":"quantitative","scale":{"domain":[110,230],"range":[644,933.5],"nice":false,"zero":false},
       "axis":{"orient":"top","values":[110,150,190,230],"labels":false,"title":null}},
     "y":{"field":"y","type":"quantitative","scale":{"domain":[-1.05,15,20,50,90,115.08],"range":[685,502,423,249,163,0],"nice":false,"zero":false}},
     "stroke":{"field":"cls","type":"nominal","scale":{"domain":["Class TB","Class BB","Class KB","Class TA","Class BA","Class KA"],"range":["#4A86E8","#EC6352","#4D4D4D","#4A86E8","#EC6352","#4D4D4D"]}}}},
   {"data":{"name":"slA"},"transform":[{"filter":"datum.side=='R'"}],"mark":{"type":"rule","stroke":"black","strokeWidth":1.4},
    "encoding":{"x":{"field":"x1","type":"quantitative","scale":{"domain":[110,230],"range":[644,933.5],"nice":false,"zero":false},"axis":null},"x2":{"field":"x2"},
     "y":{"field":"ya","type":"quantitative","scale":{"domain":[-1.05,15,20,50,90,115.08],"range":[685,502,423,249,163,0],"nice":false,"zero":false}},"y2":{"field":"yb"}}}
  ]}
 ]
},
{
 "width":933,"height":427,
 "resolve":{"axis":{"x":"independent","y":"independent"}},
 "layer":[
  {"data":{"name":"bB"},
   "mark":{"type":"line","interpolate":"cardinal-closed","strokeWidth":0,"strokeOpacity":0},
   "encoding":{"x":{"field":"x","type":"quantitative","scale":{"domain":[0,80],"range":[24.5,932],"nice":false,"zero":false},"axis":null},
    "y":{"field":"y","type":"quantitative","scale":{"domain":[-18.6,300,2450,2579],"range":[427,187.5,98,0],"nice":false,"zero":false},"axis":null},
    "detail":{"field":"b"},"order":{"field":"i","type":"quantitative"},
    "fill":{"field":"region","type":"nominal","scale":{"domain":["Healthcare device","Micromanipulation","Precision positioning","Balancing device","Robotics","Others"],"range":["#FFE9A8","#E2DEF6","#DDE8CB","#CBE9EF","#F9D9BF","#CFCFCF"]},"legend":null}}},
  {"data":{"name":"vB"},"transform":[{"filter":"datum.k=='m'"}],"mark":{"type":"rule","stroke":"#cacaca","strokeWidth":1,"strokeDash":[3,2]},
   "encoding":{"x":{"field":"v","type":"quantitative","scale":{"domain":[0,80],"range":[24.5,932],"nice":false,"zero":false},"axis":null}}},
  {"data":{"name":"vB"},"transform":[{"filter":"datum.k=='M'"}],"mark":{"type":"rule","stroke":"#858585","strokeWidth":1.2,"strokeDash":[2,1.5]},
   "encoding":{"x":{"field":"v","type":"quantitative","scale":{"domain":[0,80],"range":[24.5,932],"nice":false,"zero":false},"axis":null}}},
  {"data":{"name":"hB"},"transform":[{"filter":"datum.k=='m'"}],"mark":{"type":"rule","stroke":"#cacaca","strokeWidth":1,"strokeDash":[3,2]},
   "encoding":{"y":{"field":"v","type":"quantitative","scale":{"domain":[-18.6,300,2450,2579],"range":[427,187.5,98,0],"nice":false,"zero":false},"axis":null}}},
  {"data":{"name":"hB"},"transform":[{"filter":"datum.k=='M'"}],"mark":{"type":"rule","stroke":"#858585","strokeWidth":1.2,"strokeDash":[2,1.5]},
   "encoding":{"y":{"field":"v","type":"quantitative","scale":{"domain":[-18.6,300,2450,2579],"range":[427,187.5,98,0],"nice":false,"zero":false},"axis":null}}},
  {"data":{"name":"lB"},"transform":[{"filter":"substring(datum.cls,7,8)=='A'"}],
   "mark":{"type":"rule","strokeWidth":2.6,"strokeDash":[5,3]},
   "encoding":{
    "x":{"field":"x1","type":"quantitative","scale":{"domain":[0,80],"range":[24.5,932],"nice":false,"zero":false},"axis":null},
    "x2":{"field":"x2"},
    "y":{"field":"y","type":"quantitative","scale":{"domain":[-18.6,300,2450,2579],"range":[427,187.5,98,0],"nice":false,"zero":false},"axis":null},
    "stroke":{"field":"cls","type":"nominal","scale":{"domain":["Class TB","Class BB","Class KB","Class TA","Class BA","Class KA"],"range":["#4A86E8","#EC6352","#4D4D4D","#4A86E8","#EC6352","#4D4D4D"]},"legend":null}}},
  {"data":{"name":"lB"},"transform":[{"filter":"substring(datum.cls,7,8)=='B'"}],
   "mark":{"type":"rule","strokeWidth":3},
   "encoding":{
    "x":{"field":"x1","type":"quantitative","scale":{"domain":[0,80],"range":[24.5,932],"nice":false,"zero":false},
      "axis":{"orient":"bottom","values":[0,10,20,30,40,50,60,70,80],"title":"θ","titleFontStyle":"italic","titleX":418,"titleY":48,"titleAlign":"center","titleBaseline":"alphabetic","titleAngle":0}},
    "x2":{"field":"x2"},
    "y":{"field":"y","type":"quantitative","scale":{"domain":[-18.6,300,2450,2579],"range":[427,187.5,98,0],"nice":false,"zero":false},
      "axis":{"orient":"left","values":[0,50,100,150,200,250,300,2450,2500,2550],"format":"d","title":"Tc","titleFontStyle":"italic","titleX":-64,"titleY":262.5,"titleAngle":-90,"titleAlign":"center","titleBaseline":"middle"}},
    "stroke":{"field":"cls","type":"nominal","scale":{"domain":["Class TB","Class BB","Class KB","Class TA","Class BA","Class KA"],"range":["#4A86E8","#EC6352","#4D4D4D","#4A86E8","#EC6352","#4D4D4D"]},"legend":null}}},
  {"data":{"name":"lB"},"transform":[{"fold":["x1","x2"],"as":["end","xv"]},{"filter":"substring(datum.cls,7,8)=='B'"}],
   "mark":{"type":"point","shape":"circle","size":70,"strokeWidth":2.4,"fill":"white","filled":false,"opacity":1},
   "encoding":{"x":{"field":"xv","type":"quantitative","scale":{"domain":[0,80],"range":[24.5,932],"nice":false,"zero":false},
      "axis":{"orient":"top","values":[0,10,20,30,40,50,60,70,80],"labels":false,"title":null}},
    "y":{"field":"y","type":"quantitative","scale":{"domain":[-18.6,300,2450,2579],"range":[427,187.5,98,0],"nice":false,"zero":false},
      "axis":{"orient":"right","values":[0,50,100,150,200,250,300,2450,2500,2550],"labels":false,"title":null}},
    "stroke":{"field":"cls","type":"nominal","scale":{"domain":["Class TB","Class BB","Class KB","Class TA","Class BA","Class KA"],"range":["#4A86E8","#EC6352","#4D4D4D","#4A86E8","#EC6352","#4D4D4D"]},"legend":null}}},
  {"data":{"name":"lB"},"transform":[{"fold":["x1","x2"],"as":["end","xv"]},{"filter":"substring(datum.cls,7,8)=='A'"}],
   "mark":{"type":"point","shape":"square","size":64,"strokeWidth":2.4,"fill":"white","filled":false,"opacity":1},
   "encoding":{"x":{"field":"xv","type":"quantitative","scale":{"domain":[0,80],"range":[24.5,932],"nice":false,"zero":false},
      "axis":{"orient":"bottom","values":[0],"labels":false,"ticks":false,"title":"(degree)","titleX":475,"titleY":48,"titleAlign":"center","titleBaseline":"alphabetic","titleAngle":0}},
    "y":{"field":"y","type":"quantitative","scale":{"domain":[-18.6,300,2450,2579],"range":[427,187.5,98,0],"nice":false,"zero":false},
      "axis":{"orient":"left","values":[0],"labels":false,"ticks":false,"title":"(N·mm)","titleX":-64,"titleY":203.3,"titleAngle":-90,"titleAlign":"center","titleBaseline":"middle"}},
    "stroke":{"field":"cls","type":"nominal","scale":{"domain":["Class TB","Class BB","Class KB","Class TA","Class BA","Class KA"],"range":["#4A86E8","#EC6352","#4D4D4D","#4A86E8","#EC6352","#4D4D4D"]},"legend":null}}},
  {"data":{"values":[{}]},"mark":{"type":"rect","fill":"white","stroke":"black","strokeWidth":1.3},
   "encoding":{"x":{"datum":-0.547,"type":"quantitative","scale":{"domain":[0,80],"range":[24.5,932],"nice":false,"zero":false},"axis":null},"x2":{"datum":3.86},
    "y":{"datum":2557.9,"type":"quantitative","scale":{"domain":[-18.6,300,2450,2579],"range":[427,187.5,98,0],"nice":false,"zero":false},"axis":null},"y2":{"datum":2509.6}}},
  {"data":{"values":[{}]},"mark":{"type":"text","text":"(b)","font":"Liberation Serif","fontSize":24,"color":"black","align":"center","baseline":"middle"},
   "encoding":{"x":{"datum":1.66,"type":"quantitative","scale":{"domain":[0,80],"range":[24.5,932],"nice":false,"zero":false},"axis":null},
    "y":{"datum":2533.8,"type":"quantitative","scale":{"domain":[-18.6,300,2450,2579],"range":[427,187.5,98,0],"nice":false,"zero":false},"axis":null}}},
  {"data":{"name":"slB"},"mark":{"type":"rule","stroke":"black","strokeWidth":1.4},
   "encoding":{"x":{"field":"x1","type":"quantitative","scale":{"domain":[0,80],"range":[24.5,932],"nice":false,"zero":false},"axis":null},"x2":{"field":"x2"},
    "y":{"field":"ya","type":"quantitative","scale":{"domain":[-18.6,300,2450,2579],"range":[427,187.5,98,0],"nice":false,"zero":false},"axis":null},"y2":{"field":"yb"}}}
 ]
}
]
}
